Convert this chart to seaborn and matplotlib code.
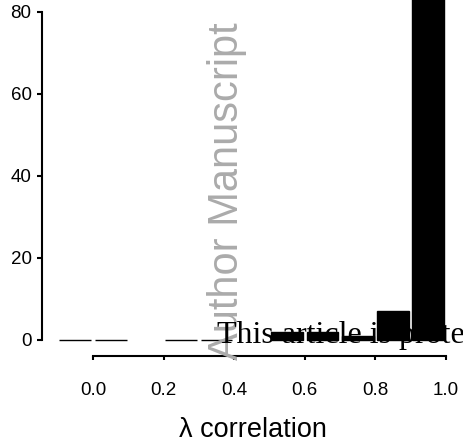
import matplotlib
matplotlib.use("Agg")
import matplotlib.pyplot as plt
import seaborn as sns

# histogram of lambda correlation, bins of width 0.1 (two bins show no bar)
bin_centers = [-0.05, 0.05, 0.25, 0.35, 0.55, 0.65, 0.75, 0.85, 0.95]
counts = [0, 0, 0, 0, 2, 2, 1, 7, 90]
x_ticks = [0.0, 0.2, 0.4, 0.6, 0.8, 1.0]
x_tick_labels = ["0.0", "0.2", "0.4", "0.6", "0.8", "1.0"]
y_ticks = [0, 20, 40, 60, 80]

sns.set_style("white")
plt.rcParams["font.family"] = ["Liberation Sans", "DejaVu Sans"]
plt.rcParams["text.color"] = "black"
plt.rcParams["axes.labelcolor"] = "black"

fig = plt.figure(figsize=(4.64, 4.48), dpi=100)
ax = fig.add_axes([42 / 464, 92 / 448, 1 - 42 / 464, 356 / 448])

sns.barplot(x=bin_centers, y=counts, native_scale=True, width=0.9,
            color="black", edgecolor="black", linewidth=1, saturation=1,
            errorbar=None, ax=ax)

ax.set_xlim(-0.1445, 1.051)
ax.set_ylim(-3.97, 82.9)
ax.set_xticks(x_ticks, x_tick_labels)
ax.set_yticks(y_ticks)
ax.spines[["top", "right"]].set_visible(False)
ax.spines["left"].set_bounds(0, 80)
ax.spines["bottom"].set_bounds(0, 1)
for side in ["left", "bottom"]:
  ax.spines[side].set_linewidth(1.5)
  ax.spines[side].set_color("black")
ax.tick_params(axis="x", bottom=True, length=3, width=1.5, pad=16, labelsize=13.5, colors="black")
ax.tick_params(axis="y", left=True, length=3.5, width=1.5, pad=4, labelsize=13.5, colors="black")
ax.set_xlabel("λ correlation", fontsize=19.5, color="black", va="baseline")
ax.set_ylabel("")
ax.xaxis.set_label_coords(0.5, -0.2275)
ax.patch.set_alpha(0)

fig.text(227 / 464, 1 - 191 / 448, "Author Manuscript", rotation=90,
         fontsize=30, color="#ababab", ha="center", va="center", zorder=5)
fig.text(217 / 464, 1 - 343 / 448, "This article is protected by copyright. All rights reserved.",
         fontsize=23, family=["Liberation Serif", "DejaVu Serif"], color="black",
         ha="left", va="baseline", zorder=6)

fig.savefig("out.png", dpi=100)
